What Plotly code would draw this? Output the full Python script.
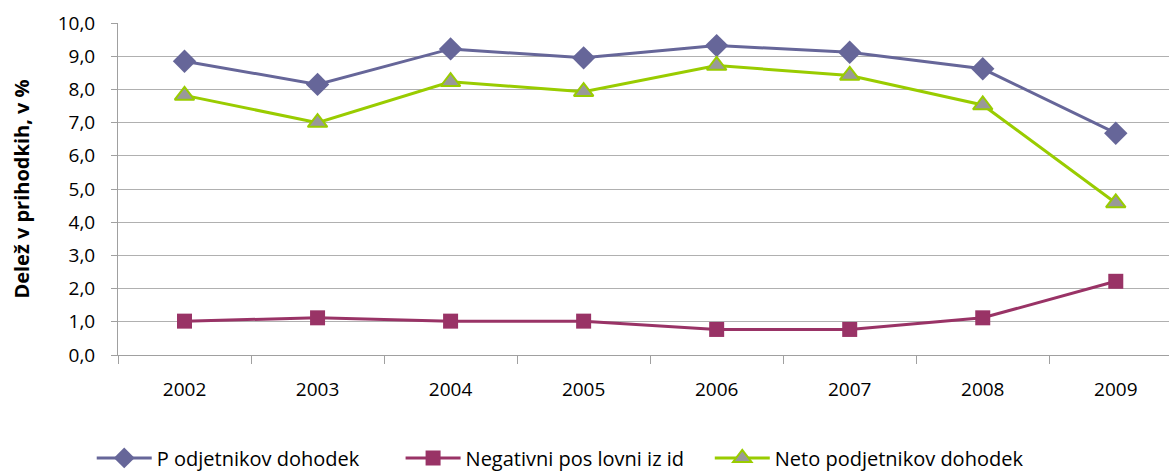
import plotly.graph_objects as go

years = ["2002", "2003", "2004", "2005", "2006", "2007", "2008", "2009"]
podjetnikov = [8.85, 8.15, 9.22, 8.95, 9.32, 9.12, 8.62, 6.68]
negativni = [1.02, 1.12, 1.02, 1.02, 0.77, 0.77, 1.12, 2.22]
neto = [7.82, 7.0, 8.23, 7.93, 8.72, 8.42, 7.53, 4.58]
names = ["P odjetnikov dohodek", "Negativni pos lovni iz id", "Neto podjetnikov dohodek"]
yticks = [0, 1, 2, 3, 4, 5, 6, 7, 8, 9, 10]
pad = ["\u00a0" * 7, "\u00a0" * 4, ""]

fig = go.Figure()
fig.add_trace(go.Scatter(x=years, y=podjetnikov, name=names[0] + pad[0], mode="lines+markers",
                         line=dict(color="#666699", width=3),
                         marker=dict(symbol="diamond", size=18, color="#666699")))
fig.add_trace(go.Scatter(x=years, y=negativni, name=names[1] + pad[1], mode="lines+markers",
                         line=dict(color="#993366", width=3),
                         marker=dict(symbol="square", size=15, color="#993366")))
fig.add_trace(go.Scatter(x=years, y=neto, name=names[2] + pad[2], mode="lines+markers",
                         line=dict(color="#99CC00", width=3),
                         marker=dict(symbol="triangle-up", size=17, color="#999999",
                                     line=dict(color="#99CC00", width=2))))

fig.update_layout(
    width=1169, height=473,
    margin=dict(l=118, r=0, t=23, b=118, autoexpand=False),
    paper_bgcolor="white", plot_bgcolor="white",
    font=dict(family="Open Sans", size=18, color="black"),
    separators=",.",
    legend=dict(orientation="h", x=-0.025, xanchor="left", y=-0.31, yanchor="middle",
                font=dict(size=20), itemwidth=55, tracegroupgap=0),
    xaxis=dict(type="category", range=[-0.5, 7.4], showgrid=False,
               showline=True, linecolor="#a0a0a0", linewidth=1,
               ticks="outside", tickson="boundaries", ticklen=8, tickcolor="#a0a0a0",
               tickfont=dict(size=19), ticklabelstandoff=17, fixedrange=True),
    yaxis=dict(range=[0, 10], tickvals=yticks, tickformat=".1f",
               showgrid=True, gridcolor="#b0b0b0", gridwidth=1,
               showline=True, linecolor="#a0a0a0", linewidth=1,
               ticks="outside", ticklen=6, tickcolor="#a0a0a0",
               zeroline=False, tickfont=dict(size=19), ticklabelstandoff=12,
               title=dict(text="<b>Delež v prihodkih, v %</b>", font=dict(size=20), standoff=22)),
)

fig.write_html("out.html", config={"displayModeBar": False},
               post_script="document.body.style.margin='0';")
